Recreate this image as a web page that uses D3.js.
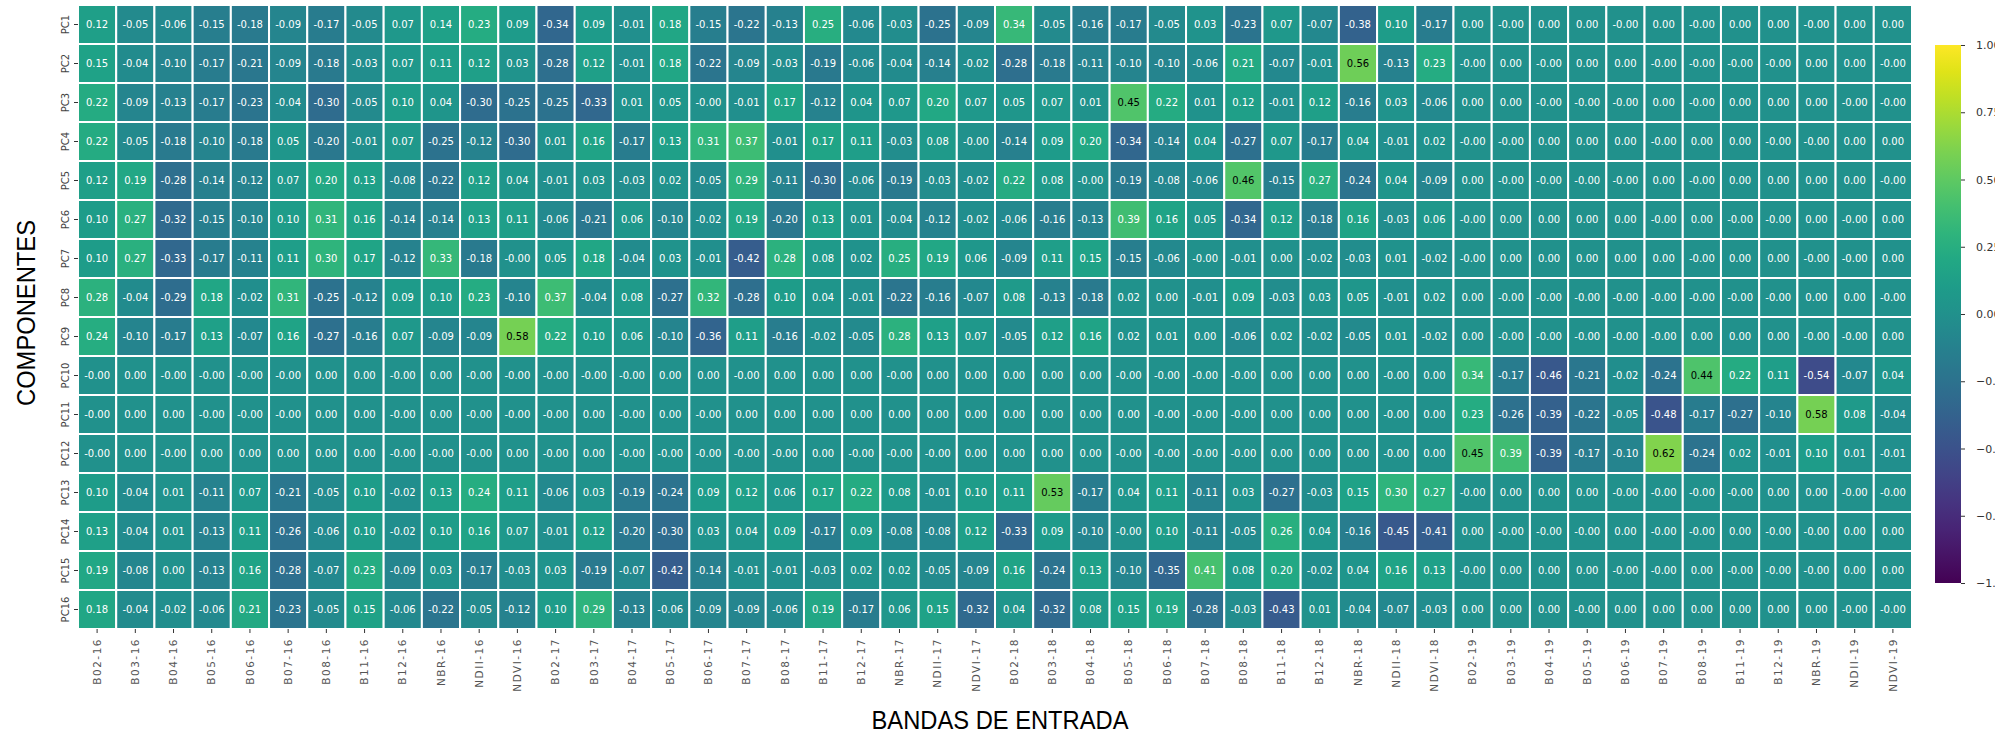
<!DOCTYPE html>
<html>
<head>
<meta charset="utf-8">
<script src="https://cdn.jsdelivr.net/npm/d3@7"></script>
<style>
  html, body { margin: 0; padding: 0; background: #ffffff; }
  svg { display: block; }
</style>
</head>
<body>
<svg id="chart" width="2001" height="734"></svg>
<script>
// Principal components (rows) and input bands per year (columns)
const components = ["PC1","PC2","PC3","PC4","PC5","PC6","PC7","PC8",
                    "PC9","PC10","PC11","PC12","PC13","PC14","PC15","PC16"];

const bands = [
  "B02-16","B03-16","B04-16","B05-16","B06-16","B07-16","B08-16","B11-16","B12-16","NBR-16","NDII-16","NDVI-16",
  "B02-17","B03-17","B04-17","B05-17","B06-17","B07-17","B08-17","B11-17","B12-17","NBR-17","NDII-17","NDVI-17",
  "B02-18","B03-18","B04-18","B05-18","B06-18","B07-18","B08-18","B11-18","B12-18","NBR-18","NDII-18","NDVI-18",
  "B02-19","B03-19","B04-19","B05-19","B06-19","B07-19","B08-19","B11-19","B12-19","NBR-19","NDII-19","NDVI-19"
];

// Loadings of each component on each band (-0 keeps the sign of tiny negatives)
const pc1 = [0.12,-0.05,-0.06,-0.15,-0.18,-0.09,-0.17,-0.05,0.07,0.14,0.23,0.09,
             -0.34,0.09,-0.01,0.18,-0.15,-0.22,-0.13,0.25,-0.06,-0.03,-0.25,-0.09,
             0.34,-0.05,-0.16,-0.17,-0.05,0.03,-0.23,0.07,-0.07,-0.38,0.10,-0.17,
             0,-0,0,0,-0,0,-0,0,0,-0,0,0];
const pc2 = [0.15,-0.04,-0.10,-0.17,-0.21,-0.09,-0.18,-0.03,0.07,0.11,0.12,0.03,
             -0.28,0.12,-0.01,0.18,-0.22,-0.09,-0.03,-0.19,-0.06,-0.04,-0.14,-0.02,
             -0.28,-0.18,-0.11,-0.10,-0.10,-0.06,0.21,-0.07,-0.01,0.56,-0.13,0.23,
             -0,0,-0,0,0,-0,-0,-0,-0,0,0,-0];
const pc3 = [0.22,-0.09,-0.13,-0.17,-0.23,-0.04,-0.30,-0.05,0.10,0.04,-0.30,-0.25,
             -0.25,-0.33,0.01,0.05,-0,-0.01,0.17,-0.12,0.04,0.07,0.20,0.07,
             0.05,0.07,0.01,0.45,0.22,0.01,0.12,-0.01,0.12,-0.16,0.03,-0.06,
             0,0,-0,-0,-0,0,-0,0,0,0,-0,-0];
const pc4 = [0.22,-0.05,-0.18,-0.10,-0.18,0.05,-0.20,-0.01,0.07,-0.25,-0.12,-0.30,
             0.01,0.16,-0.17,0.13,0.31,0.37,-0.01,0.17,0.11,-0.03,0.08,-0,
             -0.14,0.09,0.20,-0.34,-0.14,0.04,-0.27,0.07,-0.17,0.04,-0.01,0.02,
             -0,-0,0,0,0,-0,0,0,-0,-0,0,0];
const pc5 = [0.12,0.19,-0.28,-0.14,-0.12,0.07,0.20,0.13,-0.08,-0.22,0.12,0.04,
             -0.01,0.03,-0.03,0.02,-0.05,0.29,-0.11,-0.30,-0.06,-0.19,-0.03,-0.02,
             0.22,0.08,-0,-0.19,-0.08,-0.06,0.46,-0.15,0.27,-0.24,0.04,-0.09,
             0,-0,-0,-0,-0,0,-0,0,0,0,0,-0];
const pc6 = [0.10,0.27,-0.32,-0.15,-0.10,0.10,0.31,0.16,-0.14,-0.14,0.13,0.11,
             -0.06,-0.21,0.06,-0.10,-0.02,0.19,-0.20,0.13,0.01,-0.04,-0.12,-0.02,
             -0.06,-0.16,-0.13,0.39,0.16,0.05,-0.34,0.12,-0.18,0.16,-0.03,0.06,
             -0,0,0,0,0,-0,0,-0,-0,0,-0,0];
const pc7 = [0.10,0.27,-0.33,-0.17,-0.11,0.11,0.30,0.17,-0.12,0.33,-0.18,-0,
             0.05,0.18,-0.04,0.03,-0.01,-0.42,0.28,0.08,0.02,0.25,0.19,0.06,
             -0.09,0.11,0.15,-0.15,-0.06,-0,-0.01,0,-0.02,-0.03,0.01,-0.02,
             -0,0,0,0,0,0,-0,0,0,-0,-0,0];
const pc8 = [0.28,-0.04,-0.29,0.18,-0.02,0.31,-0.25,-0.12,0.09,0.10,0.23,-0.10,
             0.37,-0.04,0.08,-0.27,0.32,-0.28,0.10,0.04,-0.01,-0.22,-0.16,-0.07,
             0.08,-0.13,-0.18,0.02,0,-0.01,0.09,-0.03,0.03,0.05,-0.01,0.02,
             0,-0,-0,-0,-0,-0,-0,-0,-0,0,0,-0];
const pc9 = [0.24,-0.10,-0.17,0.13,-0.07,0.16,-0.27,-0.16,0.07,-0.09,-0.09,0.58,
             0.22,0.10,0.06,-0.10,-0.36,0.11,-0.16,-0.02,-0.05,0.28,0.13,0.07,
             -0.05,0.12,0.16,0.02,0.01,0,-0.06,0.02,-0.02,-0.05,0.01,-0.02,
             0,-0,-0,-0,-0,-0,0,0,0,-0,-0,0];
const pc10 = [-0,0,-0,-0,-0,-0,0,0,-0,0,-0,-0,
              -0,-0,-0,0,0,-0,0,0,0,-0,0,0,
              0,0,0,-0,-0,-0,-0,0,0,0,-0,0,
              0.34,-0.17,-0.46,-0.21,-0.02,-0.24,0.44,0.22,0.11,-0.54,-0.07,0.04];
const pc11 = [-0,0,0,-0,-0,-0,0,0,-0,0,-0,-0,
              -0,0,-0,0,-0,0,0,0,0,0,0,0,
              0,0,0,0,-0,-0,-0,0,0,0,-0,0,
              0.23,-0.26,-0.39,-0.22,-0.05,-0.48,-0.17,-0.27,-0.10,0.58,0.08,-0.04];
const pc12 = [-0,0,-0,0,0,0,0,0,-0,-0,-0,0,
              -0,0,-0,-0,-0,-0,-0,0,-0,-0,-0,0,
              0,0,0,-0,-0,-0,-0,0,0,0,-0,0,
              0.45,0.39,-0.39,-0.17,-0.10,0.62,-0.24,0.02,-0.01,0.10,0.01,-0.01];
const pc13 = [0.10,-0.04,0.01,-0.11,0.07,-0.21,-0.05,0.10,-0.02,0.13,0.24,0.11,
              -0.06,0.03,-0.19,-0.24,0.09,0.12,0.06,0.17,0.22,0.08,-0.01,0.10,
              0.11,0.53,-0.17,0.04,0.11,-0.11,0.03,-0.27,-0.03,0.15,0.30,0.27,
              -0,0,0,0,-0,-0,-0,-0,0,0,-0,-0];
const pc14 = [0.13,-0.04,0.01,-0.13,0.11,-0.26,-0.06,0.10,-0.02,0.10,0.16,0.07,
              -0.01,0.12,-0.20,-0.30,0.03,0.04,0.09,-0.17,0.09,-0.08,-0.08,0.12,
              -0.33,0.09,-0.10,-0,0.10,-0.11,-0.05,0.26,0.04,-0.16,-0.45,-0.41,
              0,-0,-0,-0,0,-0,-0,0,-0,-0,0,0];
const pc15 = [0.19,-0.08,0,-0.13,0.16,-0.28,-0.07,0.23,-0.09,0.03,-0.17,-0.03,
              0.03,-0.19,-0.07,-0.42,-0.14,-0.01,-0.01,-0.03,0.02,0.02,-0.05,-0.09,
              0.16,-0.24,0.13,-0.10,-0.35,0.41,0.08,0.20,-0.02,0.04,0.16,0.13,
              -0,0,0,0,-0,-0,0,-0,-0,-0,0,0];
const pc16 = [0.18,-0.04,-0.02,-0.06,0.21,-0.23,-0.05,0.15,-0.06,-0.22,-0.05,-0.12,
              0.10,0.29,-0.13,-0.06,-0.09,-0.09,-0.06,0.19,-0.17,0.06,0.15,-0.32,
              0.04,-0.32,0.08,0.15,0.19,-0.28,-0.03,-0.43,0.01,-0.04,-0.07,-0.03,
              0,0,0,-0,0,0,0,0,0,0,-0,-0];

const loadings = [pc1,pc2,pc3,pc4,pc5,pc6,pc7,pc8,pc9,pc10,pc11,pc12,pc13,pc14,pc15,pc16];

const colorbarTicks = [1, 0.75, 0.5, 0.25, 0, -0.25, -0.5, -0.75, -1];

const xTitle = "BANDAS DE ENTRADA";
const yTitle = "COMPONENTES";

// ---- layout ----
const plot = { left: 78, right: 1912, top: 5, bottom: 629 };
const cbar = { x: 1935, width: 26, top: 45, bottom: 583 };
const visibleRight = 1995;   // colour-bar labels run off the right edge here

const svg = d3.select("#chart");

const x = d3.scaleBand().domain(bands).range([plot.left, plot.right]);
const y = d3.scaleBand().domain(components).range([plot.top, plot.bottom]);
const color = d3.scaleSequential(d3.interpolateViridis).domain([-1, 1]);

// two-decimal annotation with ASCII hyphen; negative zero keeps its sign
function fmtCell(v) {
  const neg = v < 0 || Object.is(v, -0);
  return (neg ? "-" : "") + Math.abs(v).toFixed(2);
}

function luminance(c) {
  const rgb = d3.rgb(c);
  const lin = v => { v /= 255; return v <= 0.03928 ? v / 12.92 : Math.pow((v + 0.055) / 1.055, 2.4); };
  return 0.2126 * lin(rgb.r) + 0.7152 * lin(rgb.g) + 0.0722 * lin(rgb.b);
}

const cells = [];
components.forEach((pc, i) => {
  bands.forEach((b, j) => cells.push({ pc, band: b, value: loadings[i][j] }));
});

// ---- heatmap cells ----
const gCells = svg.append("g").attr("class", "cells");
gCells.selectAll("rect")
  .data(cells)
  .join("rect")
  .attr("x", d => x(d.band))
  .attr("y", d => y(d.pc))
  .attr("width", x.bandwidth())
  .attr("height", y.bandwidth())
  .attr("fill", d => color(d.value))
  .attr("stroke", "#ffffff")
  .attr("stroke-width", 2);

gCells.selectAll("text")
  .data(cells)
  .join("text")
  .attr("x", d => x(d.band) + x.bandwidth() / 2)
  .attr("y", d => y(d.pc) + y.bandwidth() / 2)
  .attr("dy", "0.35em")
  .attr("text-anchor", "middle")
  .attr("font-family", "DejaVu Sans, sans-serif")
  .attr("font-size", 10)
  .attr("fill", d => luminance(color(d.value)) > 0.408 ? "#000000" : "#ffffff")
  .text(d => fmtCell(d.value));

// ---- axes ----
const yAxis = svg.append("g")
  .attr("transform", `translate(${plot.left},0)`)
  .call(d3.axisLeft(y).tickSize(4).tickSizeOuter(0));
yAxis.select(".domain").remove();
yAxis.selectAll(".tick line").attr("stroke", "#333");
yAxis.selectAll(".tick text")
  .attr("x", 0).attr("y", 0).attr("dy", "0.35em")
  .attr("transform", "translate(-13,0) rotate(-90)")
  .attr("text-anchor", "middle")
  .attr("font-family", "DejaVu Sans, sans-serif")
  .attr("font-size", 10)
  .attr("fill", "#444");

const xAxis = svg.append("g")
  .attr("transform", `translate(0,${plot.bottom})`)
  .call(d3.axisBottom(x).tickSize(4).tickSizeOuter(0));
xAxis.select(".domain").remove();
xAxis.selectAll(".tick line").attr("stroke", "#333");
xAxis.selectAll(".tick text")
  .attr("x", 0).attr("y", 0).attr("dy", "0.35em")
  .attr("transform", "translate(0,9) rotate(-90)")
  .attr("text-anchor", "end")
  .attr("font-family", "DejaVu Sans, sans-serif")
  .attr("font-size", 10.5)
  .attr("letter-spacing", "1.5px")
  .attr("fill", "#555");

// ---- colour bar ----
const defs = svg.append("defs");
const grad = defs.append("linearGradient")
  .attr("id", "viridis-bar")
  .attr("x1", "0%").attr("y1", "100%")
  .attr("x2", "0%").attr("y2", "0%");
d3.range(0, 1.0001, 0.05).forEach(t => {
  grad.append("stop")
    .attr("offset", `${t * 100}%`)
    .attr("stop-color", color(-1 + 2 * t));
});
defs.append("clipPath").attr("id", "cbar-clip")
  .append("rect")
  .attr("x", cbar.x).attr("y", 0)
  .attr("width", visibleRight - cbar.x).attr("height", 734);

svg.append("rect")
  .attr("x", cbar.x).attr("y", cbar.top)
  .attr("width", cbar.width).attr("height", cbar.bottom - cbar.top)
  .attr("fill", "url(#viridis-bar)");

const cScale = d3.scaleLinear().domain([-1, 1]).range([cbar.bottom, cbar.top]);
const cAxis = svg.append("g")
  .attr("clip-path", "url(#cbar-clip)")
  .append("g")
  .attr("transform", `translate(${cbar.x + cbar.width},0)`)
  .call(d3.axisRight(cScale).tickValues(colorbarTicks).tickFormat(d3.format(".2f")).tickSize(4));
cAxis.select(".domain").remove();
cAxis.selectAll(".tick line").attr("stroke", "#333");
cAxis.selectAll(".tick text")
  .attr("x", 15)
  .attr("font-family", "DejaVu Sans, sans-serif")
  .attr("font-size", 11)
  .attr("fill", "#333");

// ---- axis titles ----
svg.append("text")
  .attr("x", 1000).attr("y", 729)
  .attr("text-anchor", "middle")
  .attr("font-family", "Liberation Sans, Arial, sans-serif")
  .attr("font-size", 25)
  .attr("textLength", 257)
  .attr("lengthAdjust", "spacingAndGlyphs")
  .attr("fill", "#000")
  .text(xTitle);

svg.append("text")
  .attr("transform", "translate(35,313) rotate(-90)")
  .attr("text-anchor", "middle")
  .attr("font-family", "Liberation Sans, Arial, sans-serif")
  .attr("font-size", 25)
  .attr("textLength", 186)
  .attr("lengthAdjust", "spacingAndGlyphs")
  .attr("fill", "#000")
  .text(yTitle);
</script>
</body>
</html>
